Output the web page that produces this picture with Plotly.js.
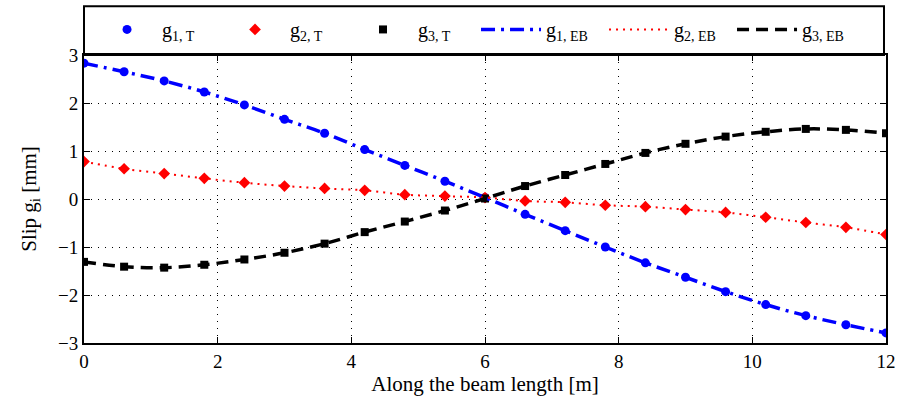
<!DOCTYPE html>
<html>
<head>
<meta charset="utf-8">
<script src="https://cdn.plot.ly/plotly-3.0.1.min.js"></script>
<style>
html,body{margin:0;padding:0;background:#fff;}
#chart{width:897px;height:405px;}
#chart svg text{font-family:"Liberation Serif","Times New Roman","DejaVu Serif",serif !important;}
</style>
</head>
<body>
<div id="chart"></div>
<script>
const xPos = [0,0.6,1.2,1.8,2.4,3.0,3.6,4.2,4.8,5.4,6.0,6.6,7.2,7.8,8.4,9.0,9.6,10.2,10.8,11.4,12.0];
const g1 = [2.83,2.65,2.46,2.23,1.96,1.66,1.37,1.03,0.70,0.37,0.03,-0.32,-0.66,-1.00,-1.33,-1.63,-1.93,-2.20,-2.43,-2.62,-2.79];
const g2 = [0.78,0.63,0.53,0.43,0.34,0.27,0.22,0.18,0.09,0.06,0.03,-0.04,-0.07,-0.13,-0.16,-0.22,-0.28,-0.38,-0.49,-0.59,-0.74];
const g3 = [-1.31,-1.41,-1.43,-1.37,-1.26,-1.12,-0.93,-0.69,-0.47,-0.24,0.01,0.27,0.50,0.73,0.96,1.15,1.30,1.40,1.46,1.44,1.37];
const names = ['g<sub>1, T</sub>','g<sub>2, T</sub>','g<sub>3, T</sub>','g<sub>1, EB</sub>','g<sub>2, EB</sub>','g<sub>3, EB</sub>'];

const traces = [
  {x:xPos,y:g1,mode:'markers',name:names[0],marker:{symbol:'circle',size:9,color:'#0000ff'}},
  {x:xPos,y:g2,mode:'markers',name:names[1],marker:{symbol:'diamond',size:9,color:'#ff0000'}},
  {x:xPos,y:g3,mode:'markers',name:names[2],marker:{symbol:'square',size:8,color:'#000000'}},
  {x:xPos,y:g1,mode:'lines',name:names[3],line:{color:'#0000ff',width:3.5,dash:'14px,6px,3px,6px',shape:'spline'}},
  {x:xPos,y:g2,mode:'lines',name:names[4],line:{color:'#ff0000',width:2,dash:'2px,5px',shape:'spline'}},
  {x:xPos,y:g3,mode:'lines',name:names[5],line:{color:'#000000',width:3.5,dash:'12px,7px',shape:'spline'}}
];

const fontFam = 'Liberation Serif, Times New Roman, DejaVu Serif, serif';
const layout = {
  width:897,height:405,
  margin:{l:84,r:11,t:54,b:62},
  paper_bgcolor:'#fff',plot_bgcolor:'#fff',
  font:{family:fontFam,color:'#000',size:18},
  showlegend:true,
  legend:{orientation:'h',x:0.01,y:1.085,xanchor:'left',yanchor:'middle',
    borderwidth:0,bgcolor:'rgba(0,0,0,0)',
    font:{family:fontFam,size:20,color:'#000'},
    entrywidth:53,entrywidthmode:'pixels',itemwidth:60,
    tracegroupgap:0,valign:'middle'},
  shapes:[{type:'rect',xref:'paper',yref:'paper',x0:0,x1:0.9975,y0:1,y1:1.1696,
    line:{color:'#000',width:2},fillcolor:'rgba(0,0,0,0)',layer:'above'}],
  xaxis:{range:[0,12],tickvals:[0,2,4,6,8,10,12],ticktext:['0','2','4','6','8','10','12'],
    showline:true,linecolor:'#000',linewidth:2,mirror:'ticks',
    ticks:'inside',ticklen:6,tickcolor:'#000',tickwidth:1,
    showgrid:true,gridcolor:'#000',griddash:'1px,6px',gridwidth:1,zeroline:false,
    tickfont:{family:fontFam,size:19},
    title:{text:'Along the beam length [m]',font:{family:fontFam,size:21},standoff:4}},
  yaxis:{range:[-3,3],tickvals:[-3,-2,-1,0,1,2,3],ticktext:['\u22123','\u22122','\u22121','0','1','2','3'],
    showline:true,linecolor:'#000',linewidth:2,mirror:'ticks',
    ticks:'inside',ticklen:6,tickcolor:'#000',tickwidth:1,
    showgrid:true,gridcolor:'#000',griddash:'1px,6px',gridwidth:1,zeroline:false,
    tickfont:{family:fontFam,size:19},
    title:{text:'Slip g<sub>i</sub> [mm]',font:{family:fontFam,size:21},standoff:16}}
};
Plotly.newPlot('chart',traces,layout,{displayModeBar:false,staticPlot:true});
</script>
</body>
</html>
